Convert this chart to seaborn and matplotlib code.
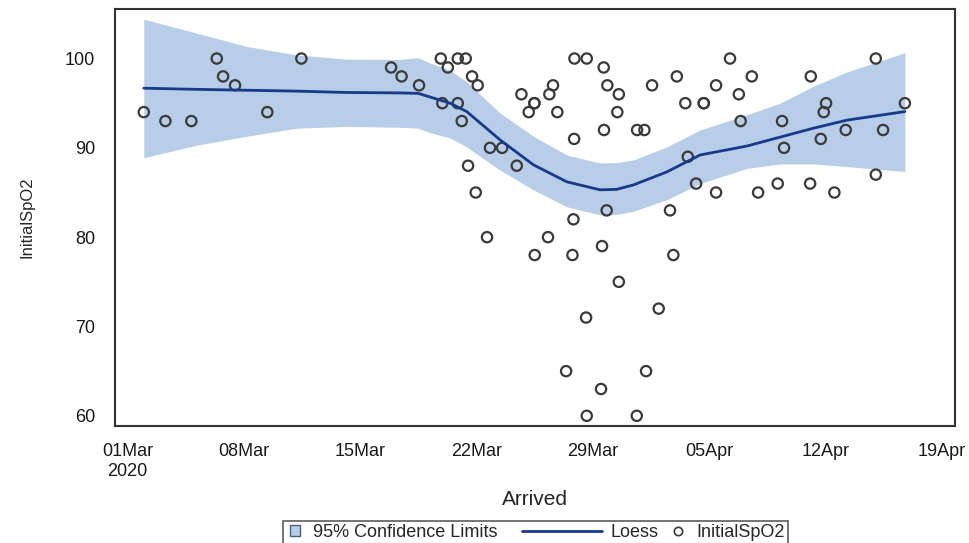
import numpy as np
import pandas as pd
import matplotlib
matplotlib.use("Agg")
import matplotlib.pyplot as plt
from matplotlib.patches import Patch, Rectangle
from matplotlib.lines import Line2D
from matplotlib.legend_handler import HandlerBase
import seaborn as sns

sns.set_style("white")
plt.rcParams['font.family'] = ['Liberation Sans', 'DejaVu Sans']

# -------------------------------
# Data
# -------------------------------
start = pd.Timestamp("2020-03-01")

# arrival time, in days after 01Mar2020, and initial SpO2
arrived_days = [0.99, 2.29, 3.85, 5.38, 5.76, 6.48, 8.42, 10.47, 15.87, 16.5, 17.55,
                18.86, 19.28, 19.88, 20.36, 20.74, 21.08, 18.95, 19.88, 20.12, 21.82,
                22.55, 20.5, 20.96, 23.43, 21.64, 23.71, 24.49, 24.49, 24.15, 25.39,
                25.61, 25.87, 26.9, 27.64, 26.88, 28.66, 28.88, 29.57, 29.48, 28.68,
                30.67, 31.11, 31.57, 33.06, 35.42, 33.57, 34.68, 34.68, 33.72, 34.22,
                35.42, 28.84, 26.84, 32.65, 25.31, 24.51, 26.78, 28.56, 32.85, 29.57,
                31.97, 27.6, 26.4, 31.21, 28.5, 27.64, 30.65,
                36.26, 37.57, 36.79, 36.9, 39.39, 39.51, 41.12, 42.04, 41.9, 41.72,
                43.22, 45.03, 45.47, 45.03, 46.78, 37.95, 39.13, 41.08, 42.54]
spo2 = [94, 93, 93, 100, 98, 97, 94, 100, 99, 98, 97,
        100, 99, 100, 100, 98, 97, 95, 95, 93, 90,
        90, 88, 85, 88, 80, 96, 95, 95, 94, 96,
        97, 94, 100, 100, 91, 99, 97, 96, 94, 92,
        92, 92, 97, 98, 97, 95, 95, 95, 89, 86,
        85, 83, 82, 83, 80, 78, 78, 79, 78, 75,
        72, 71, 65, 65, 63, 60, 60,
        100, 98, 96, 93, 93, 90, 98, 95, 94, 91,
        92, 100, 92, 87, 95, 85, 86, 86, 85]

# loess fit and 95% confidence limits
fit_days = [0.99, 4.17, 7.18, 10.19, 13.2, 16.4, 17.5, 18.2, 19.42, 20.42,
            22.42, 24.43, 26.44, 28.44, 29.44, 30.45, 32.45, 34.46, 37.27,
            39.27, 41.28, 43.29, 46.78]
loess = [96.68, 96.55, 96.45, 96.35, 96.2, 96.15, 96.1, 95.7, 95.0, 94.06,
         90.9, 88.1, 86.2, 85.3, 85.35, 85.85, 87.3, 89.2, 90.2,
         91.2, 92.2, 93.1, 94.06]
upper = [104.4, 102.85, 101.35, 100.4, 99.93, 99.9, 100.1, 99.5, 98.7, 97.4,
         93.9, 91.3, 89.2, 88.3, 88.35, 88.65, 90.1, 92.0, 93.7,
         95.0, 96.9, 98.5, 100.65]
lower = [88.9, 90.3, 91.3, 92.2, 92.4, 92.3, 92.2, 91.7, 91.1, 90.1,
         87.5, 85.3, 83.4, 82.5, 82.55, 82.9, 84.2, 86.0, 87.7,
         88.2, 88.2, 87.9, 87.35]

pts = pd.DataFrame({'Arrived': start + pd.to_timedelta(arrived_days, unit='D'),
                    'InitialSpO2': spo2})
fit = pd.DataFrame({'Arrived': start + pd.to_timedelta(fit_days, unit='D'),
                    'Loess': loess, 'Upper': upper, 'Lower': lower})

band_color = '#b8cde8'
line_color = '#183a8a'


# legend line that reaches back into the blank space after the first label
class WideLine(HandlerBase):
    def create_artists(self, legend, orig_handle, xdescent, ydescent,
                       width, height, fontsize, trans):
        y = (height - ydescent) / 2
        ln = Line2D([-xdescent - 3.4 * fontsize, -xdescent + width], [y, y],
                    color=orig_handle.get_color(), linewidth=orig_handle.get_linewidth(),
                    transform=trans)
        return [ln]


# small square patch in the legend
class SmallBox(HandlerBase):
    def create_artists(self, legend, orig_handle, xdescent, ydescent,
                       width, height, fontsize, trans):
        s = 0.6 * fontsize
        r = Rectangle((-xdescent + (width - s) / 2, (height - s) / 2 - ydescent), s, s,
                      facecolor=orig_handle.get_facecolor(),
                      edgecolor=orig_handle.get_edgecolor(),
                      linewidth=orig_handle.get_linewidth(), transform=trans)
        return [r]


# -------------------------------
# Plot
# -------------------------------
fig = plt.figure(figsize=(9.7, 5.43), dpi=100)
ax = fig.add_axes([0.1186, 0.2155, 0.866, 0.768])

ax.fill_between(fit['Arrived'], fit['Lower'], fit['Upper'], color=band_color, lw=0)
sns.lineplot(data=fit, x='Arrived', y='Loess', color=line_color, linewidth=2, ax=ax)
sns.scatterplot(data=pts, x='Arrived', y='InitialSpO2', marker='o', s=55,
                facecolor='none', edgecolor='#3a3a3a', linewidth=1.6, ax=ax)

ax.set_xlim(start - pd.Timedelta(days=0.74), start + pd.Timedelta(days=49.8))
ax.set_ylim(58.86, 105.55)
ax.set_yticks([60, 70, 80, 90, 100])

ticks = pd.date_range(start, periods=8, freq='7D')
ax.set_xticks(ticks)
labels = [t.strftime('%d%b') for t in ticks]
labels[0] = labels[0] + '\n2020'
ax.set_xticklabels(labels)

for sp in ax.spines.values():
    sp.set_visible(True)
    sp.set_color('#333333')
    sp.set_linewidth(1.5)
ax.tick_params(axis='both', direction='out', width=1.2, color='#333333',
               labelsize=13, labelcolor='#1a1a1a')
ax.tick_params(axis='y', length=7.5, pad=7)
ax.tick_params(axis='x', length=5.5, pad=7)

ax.set_xlabel('Arrived', fontsize=15, labelpad=7)
ax.set_ylabel('InitialSpO2', fontsize=12, labelpad=22)
ax.grid(False)

patch_h = Patch(facecolor=band_color, edgecolor='#4a5f80', linewidth=1.0)
line_h = Line2D([], [], color=line_color, linewidth=2)
mark_h = Line2D([], [], marker='o', linestyle='none', markerfacecolor='none',
                markeredgecolor='#3a3a3a', markersize=6, markeredgewidth=1.2)
leg = ax.legend([patch_h, line_h, mark_h],
                ['95% Confidence Limits' + ' ' * 15, 'Loess', 'InitialSpO2'],
                handler_map={patch_h: SmallBox(), line_h: WideLine()},
                loc='center', bbox_to_anchor=(0.552, 0.0195), bbox_transform=fig.transFigure,
                ncol=3, fontsize=13, frameon=True, fancybox=False, borderpad=0.15,
                handlelength=1.0, columnspacing=0.6, handletextpad=0.5)
leg.get_frame().set_edgecolor('#333333')
leg.get_frame().set_linewidth(1.2)

fig.savefig('out.png', dpi=100)
